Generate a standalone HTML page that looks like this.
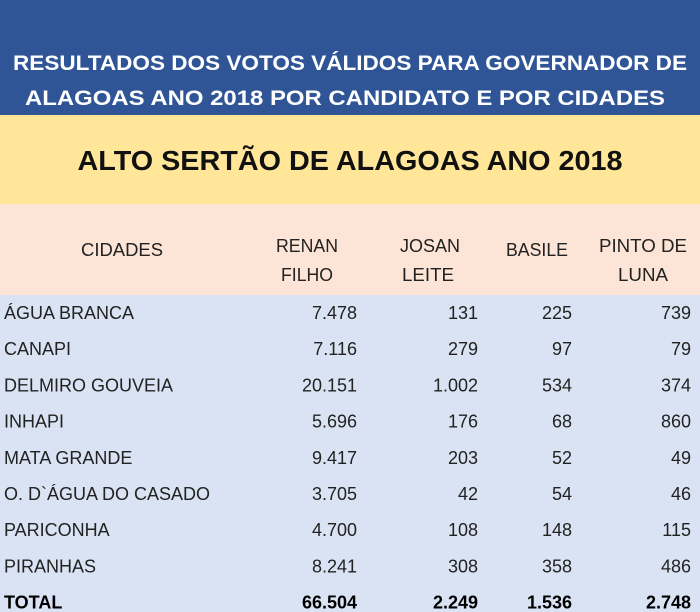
<!DOCTYPE html>
<html><head><meta charset="utf-8"><style>
html,body{margin:0;padding:0;background:#fff;}
svg{display:block;font-family:"Liberation Sans",sans-serif;}
</style></head><body>
<svg width="700" height="612" viewBox="0 0 700 612">
<rect x="0" y="0" width="700" height="115" fill="#2f5597"/>
<rect x="0" y="115" width="700" height="89" fill="#ffe699"/>
<rect x="0" y="204" width="700" height="91" fill="#fce4d6"/>
<rect x="0" y="295" width="700" height="317" fill="#dae3f3"/>
<text x="350" y="70" text-anchor="middle" fill="#fff" font-size="21" font-weight="bold" textLength="674" lengthAdjust="spacingAndGlyphs">RESULTADOS DOS VOTOS VÁLIDOS PARA GOVERNADOR DE</text>
<text x="345" y="105" text-anchor="middle" fill="#fff" font-size="21" font-weight="bold" textLength="640" lengthAdjust="spacingAndGlyphs">ALAGOAS  ANO 2018 POR CANDIDATO E POR CIDADES</text>
<text x="350" y="170" text-anchor="middle" fill="#111" font-size="28" font-weight="bold" textLength="545" lengthAdjust="spacingAndGlyphs">ALTO SERTÃO DE ALAGOAS ANO 2018</text>
<g fill="#222" font-size="18">
<text x="122" y="256" text-anchor="middle" textLength="82" lengthAdjust="spacingAndGlyphs">CIDADES</text>
<text x="307" y="252" text-anchor="middle" textLength="62" lengthAdjust="spacingAndGlyphs">RENAN</text>
<text x="307" y="281" text-anchor="middle" textLength="52" lengthAdjust="spacingAndGlyphs">FILHO</text>
<text x="430" y="252" text-anchor="middle" textLength="60" lengthAdjust="spacingAndGlyphs">JOSAN</text>
<text x="428" y="281" text-anchor="middle" textLength="52" lengthAdjust="spacingAndGlyphs">LEITE</text>
<text x="537" y="256" text-anchor="middle" textLength="62" lengthAdjust="spacingAndGlyphs">BASILE</text>
<text x="643" y="252" text-anchor="middle" textLength="88" lengthAdjust="spacingAndGlyphs">PINTO DE</text>
<text x="643" y="281" text-anchor="middle" textLength="50" lengthAdjust="spacingAndGlyphs">LUNA</text>
</g>
<g id="rows"></g>
</svg>
<script>
const cities=["ÁGUA BRANCA","CANAPI","DELMIRO GOUVEIA","INHAPI","MATA GRANDE","O. D`ÁGUA DO CASADO","PARICONHA","PIRANHAS","TOTAL"];
const renan=["7.478","7.116","20.151","5.696","9.417","3.705","4.700","8.241","66.504"];
const josan=["131","279","1.002","176","203","42","108","308","2.249"];
const basile=["225","97","534","68","52","54","148","358","1.536"];
const pinto=["739","79","374","860","49","46","115","486","2.748"];
const g=document.getElementById('rows');
const NS='http://www.w3.org/2000/svg';
const cols=[renan,josan,basile,pinto];
const rights=[357,478,572,691];
function mk(txt,x,y,anchor,bold){
  const t=document.createElementNS(NS,'text');
  t.setAttribute('x',x);t.setAttribute('y',y);
  t.setAttribute('text-anchor',anchor);
  t.setAttribute('font-size','18');
  t.setAttribute('fill',bold?'#000':'#222');
  if(bold)t.setAttribute('font-weight','bold');
  t.textContent=txt;
  return t;
}
cities.forEach((c,i)=>{
  const y=319+i*36.2;
  const bold=i===cities.length-1;
  const t=mk(c,4,y,'start',bold);
  
  
  g.appendChild(t);
  cols.forEach((arr,j)=>{
    const v=mk(arr[i],rights[j],y,'end',bold);
    
    
    g.appendChild(v);
  });
});
</script>
</body></html>
